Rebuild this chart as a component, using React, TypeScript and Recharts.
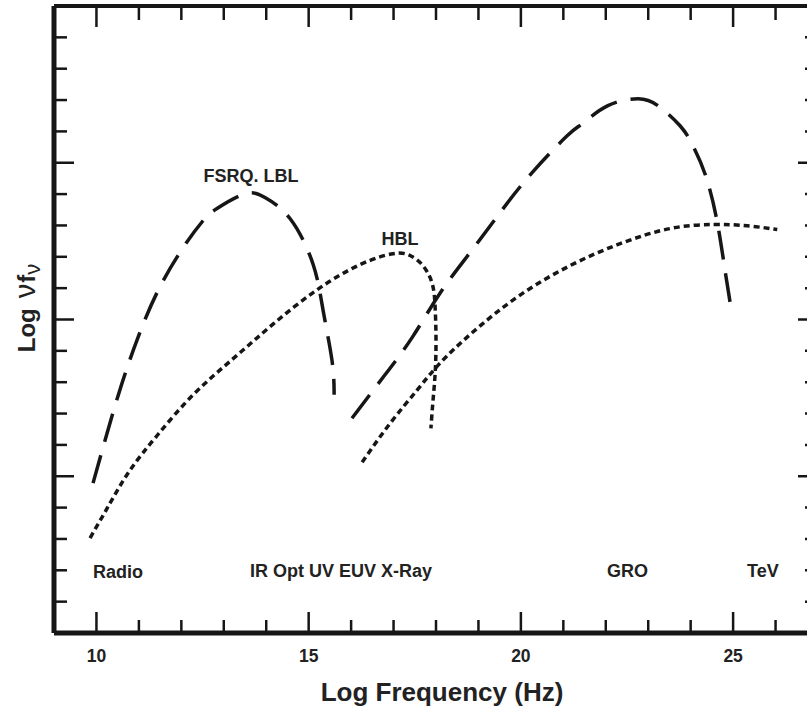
import { LineChart, Line, XAxis, YAxis } from "recharts";

// log frequency (Hz) / log nu f_nu
const lblSyncFreq = [9.92, 10.25, 10.6, 10.98, 11.45, 12.04, 12.51, 12.84, 13.5, 13.97, 14.56, 15.1, 15.34, 15.55, 15.6];
const lblSyncFlux = [4.78, 6.37, 7.96, 9.43, 10.92, 12.29, 13.15, 13.54, 14.01, 13.89, 13.22, 11.78, 10.29, 8.69, 7.6];

const lblComptonFreq = [16.02, 16.75, 17.44, 18.09, 18.8, 19.51, 20.26, 21.09, 21.45, 22.05, 22.76, 23.23, 23.75, 24.05, 24.35, 24.62, 24.81, 24.98];
const lblComptonFlux = [6.85, 8.15, 9.43, 10.83, 12.13, 13.41, 14.68, 15.86, 16.25, 16.82, 17.04, 16.82, 16.18, 15.55, 14.6, 13.15, 11.56, 10.13];

const hblSyncFreq = [9.85, 10.32, 10.79, 11.43, 12.28, 13.22, 14.16, 15.2, 16.21, 16.99, 17.39, 17.69, 17.91, 17.98, 18.0, 17.98, 17.93, 17.88];
const hblSyncFlux = [3.03, 4.14, 5.19, 6.3, 7.6, 8.75, 9.85, 10.95, 11.75, 12.1, 12.04, 11.72, 11.15, 10.38, 9.33, 8.28, 7.42, 6.53];

const hblComptonFreq = [16.26, 16.92, 17.55, 18.09, 18.87, 19.95, 21.16, 22.34, 23.51, 24.53, 25.33, 26.04];
const hblComptonFlux = [5.45, 6.69, 7.74, 8.6, 9.6, 10.75, 11.72, 12.42, 12.9, 13.03, 12.99, 12.87];

const freqTicks = [10, 11, 12, 13, 14, 15, 16, 17, 18, 19, 20, 21, 22, 23, 24, 25, 26];
const freqMajor = [10, 15, 20, 25];
const fluxTicks = [1, 2, 3, 4, 5, 6, 7, 8, 9, 10, 11, 12, 13, 14, 15, 16, 17, 18, 19];
const fluxMajor = [5, 10, 15];

const bandLabels = ["Radio", "IR Opt UV EUV X-Ray", "GRO", "TeV"];

const toPoints = (xs: number[], ys: number[]) => xs.map((x, i) => ({ x, y: ys[i] }));

const lblSync = toPoints(lblSyncFreq, lblSyncFlux);
const lblCompton = toPoints(lblComptonFreq, lblComptonFlux);
const hblSync = toPoints(hblSyncFreq, hblSyncFlux);
const hblCompton = toPoints(hblComptonFreq, hblComptonFlux);

const FONT = "'Liberation Sans', Arial, Helvetica, sans-serif";
const INK = "#161616";

function BottomTick(props: any) {
  const { x, y, payload } = props;
  const major = freqMajor.includes(payload.value);
  return (
    <g>
      <line x1={x} y1={y} x2={x} y2={y - (major ? 21 : 13)} stroke={INK} strokeWidth={2.5} />
      {major && (
        <text x={x} y={y + 29} textAnchor="middle" fontFamily={FONT} fontWeight="bold" fontSize={17.5} fill="#222">
          {payload.value}
        </text>
      )}
    </g>
  );
}

function TopTick(props: any) {
  const { x, y, payload } = props;
  const major = freqMajor.includes(payload.value);
  return <line x1={x} y1={y} x2={x} y2={y + (major ? 21 : 14)} stroke={INK} strokeWidth={2.5} />;
}

function LeftTick(props: any) {
  const { x, y, payload } = props;
  const major = fluxMajor.includes(payload.value);
  return <line x1={x} y1={y} x2={x + (major ? 20 : 13)} y2={y} stroke={INK} strokeWidth={2.5} />;
}

function RightTick(props: any) {
  const { x, y, payload } = props;
  const major = fluxMajor.includes(payload.value);
  return <line x1={x} y1={y} x2={x - (major ? 20 : 13)} y2={y} stroke={INK} strokeWidth={2.5} />;
}

const labelStyle = { fontFamily: FONT, fontWeight: "bold" as const, fontSize: 18, fill: "#222" };

const axisCommon = {
  type: "number" as const,
  allowDataOverflow: true,
  tickSize: 0,
  tickMargin: 0,
  tickLine: false,
  interval: 0 as const,
};

export default function App() {
  return (
    <div style={{ position: "absolute", left: 0, top: 0, width: 807, height: 715, overflow: "hidden", background: "#fff" }}>
      <LineChart width={830} height={715} margin={{ top: 5, right: 11, bottom: 81, left: 53 }}>
        <XAxis
          {...axisCommon}
          dataKey="x"
          domain={[9, 27]}
          ticks={freqTicks}
          height={1}
          axisLine={{ stroke: INK, strokeWidth: 5 }}
          tick={<BottomTick />}
        />
        <XAxis
          {...axisCommon}
          xAxisId="top"
          orientation="top"
          dataKey="x"
          domain={[9, 27]}
          ticks={freqTicks}
          height={1}
          axisLine={{ stroke: INK, strokeWidth: 4 }}
          tick={<TopTick />}
        />
        <YAxis
          {...axisCommon}
          domain={[0, 20]}
          ticks={fluxTicks}
          width={1}
          axisLine={{ stroke: INK, strokeWidth: 5 }}
          tick={<LeftTick />}
        />
        <YAxis
          {...axisCommon}
          yAxisId="right"
          orientation="right"
          domain={[0, 20]}
          ticks={fluxTicks}
          width={1}
          axisLine={{ stroke: INK, strokeWidth: 5 }}
          tick={<RightTick />}
        />

        <Line data={lblSync} dataKey="y" type="natural" stroke={INK} strokeWidth={3.5} strokeDasharray="29 14" dot={false} isAnimationActive={false} />
        <Line data={lblCompton} dataKey="y" type="natural" stroke={INK} strokeWidth={3.5} strokeDasharray="29 14" dot={false} isAnimationActive={false} />
        <Line data={hblSync} dataKey="y" type="natural" stroke={INK} strokeWidth={3.5} strokeDasharray="6 4" dot={false} isAnimationActive={false} />
        <Line data={hblCompton} dataKey="y" type="natural" stroke={INK} strokeWidth={3.5} strokeDasharray="6 4" dot={false} isAnimationActive={false} />

        <text x={251} y={182} textAnchor="middle" {...labelStyle}>FSRQ. LBL</text>
        <text x={400} y={245} textAnchor="middle" {...labelStyle}>HBL</text>
        <text x={93} y={578} {...labelStyle}>{bandLabels[0]}</text>
        <text x={250} y={577} {...labelStyle}>{bandLabels[1]}</text>
        <text x={607} y={577} {...labelStyle}>{bandLabels[2]}</text>
        <text x={747} y={577} {...labelStyle}>{bandLabels[3]}</text>

        <text x={442} y={701} textAnchor="middle" fontFamily={FONT} fontWeight="bold" fontSize={26} fill="#222">
          Log Frequency (Hz)
        </text>
        <text
          x={0}
          y={0}
          transform="translate(35, 308) rotate(-90)"
          textAnchor="middle"
          fontFamily={FONT}
          fontWeight="bold"
          fontSize={24}
          fill="#222"
        >
          Log
          <tspan dx={10} fontWeight="normal" fontSize={29}>ν</tspan>
          <tspan dx={1}>f</tspan>
          <tspan fontWeight="normal" fontSize={22} dy={5}>ν</tspan>
        </text>
      </LineChart>
    </div>
  );
}
